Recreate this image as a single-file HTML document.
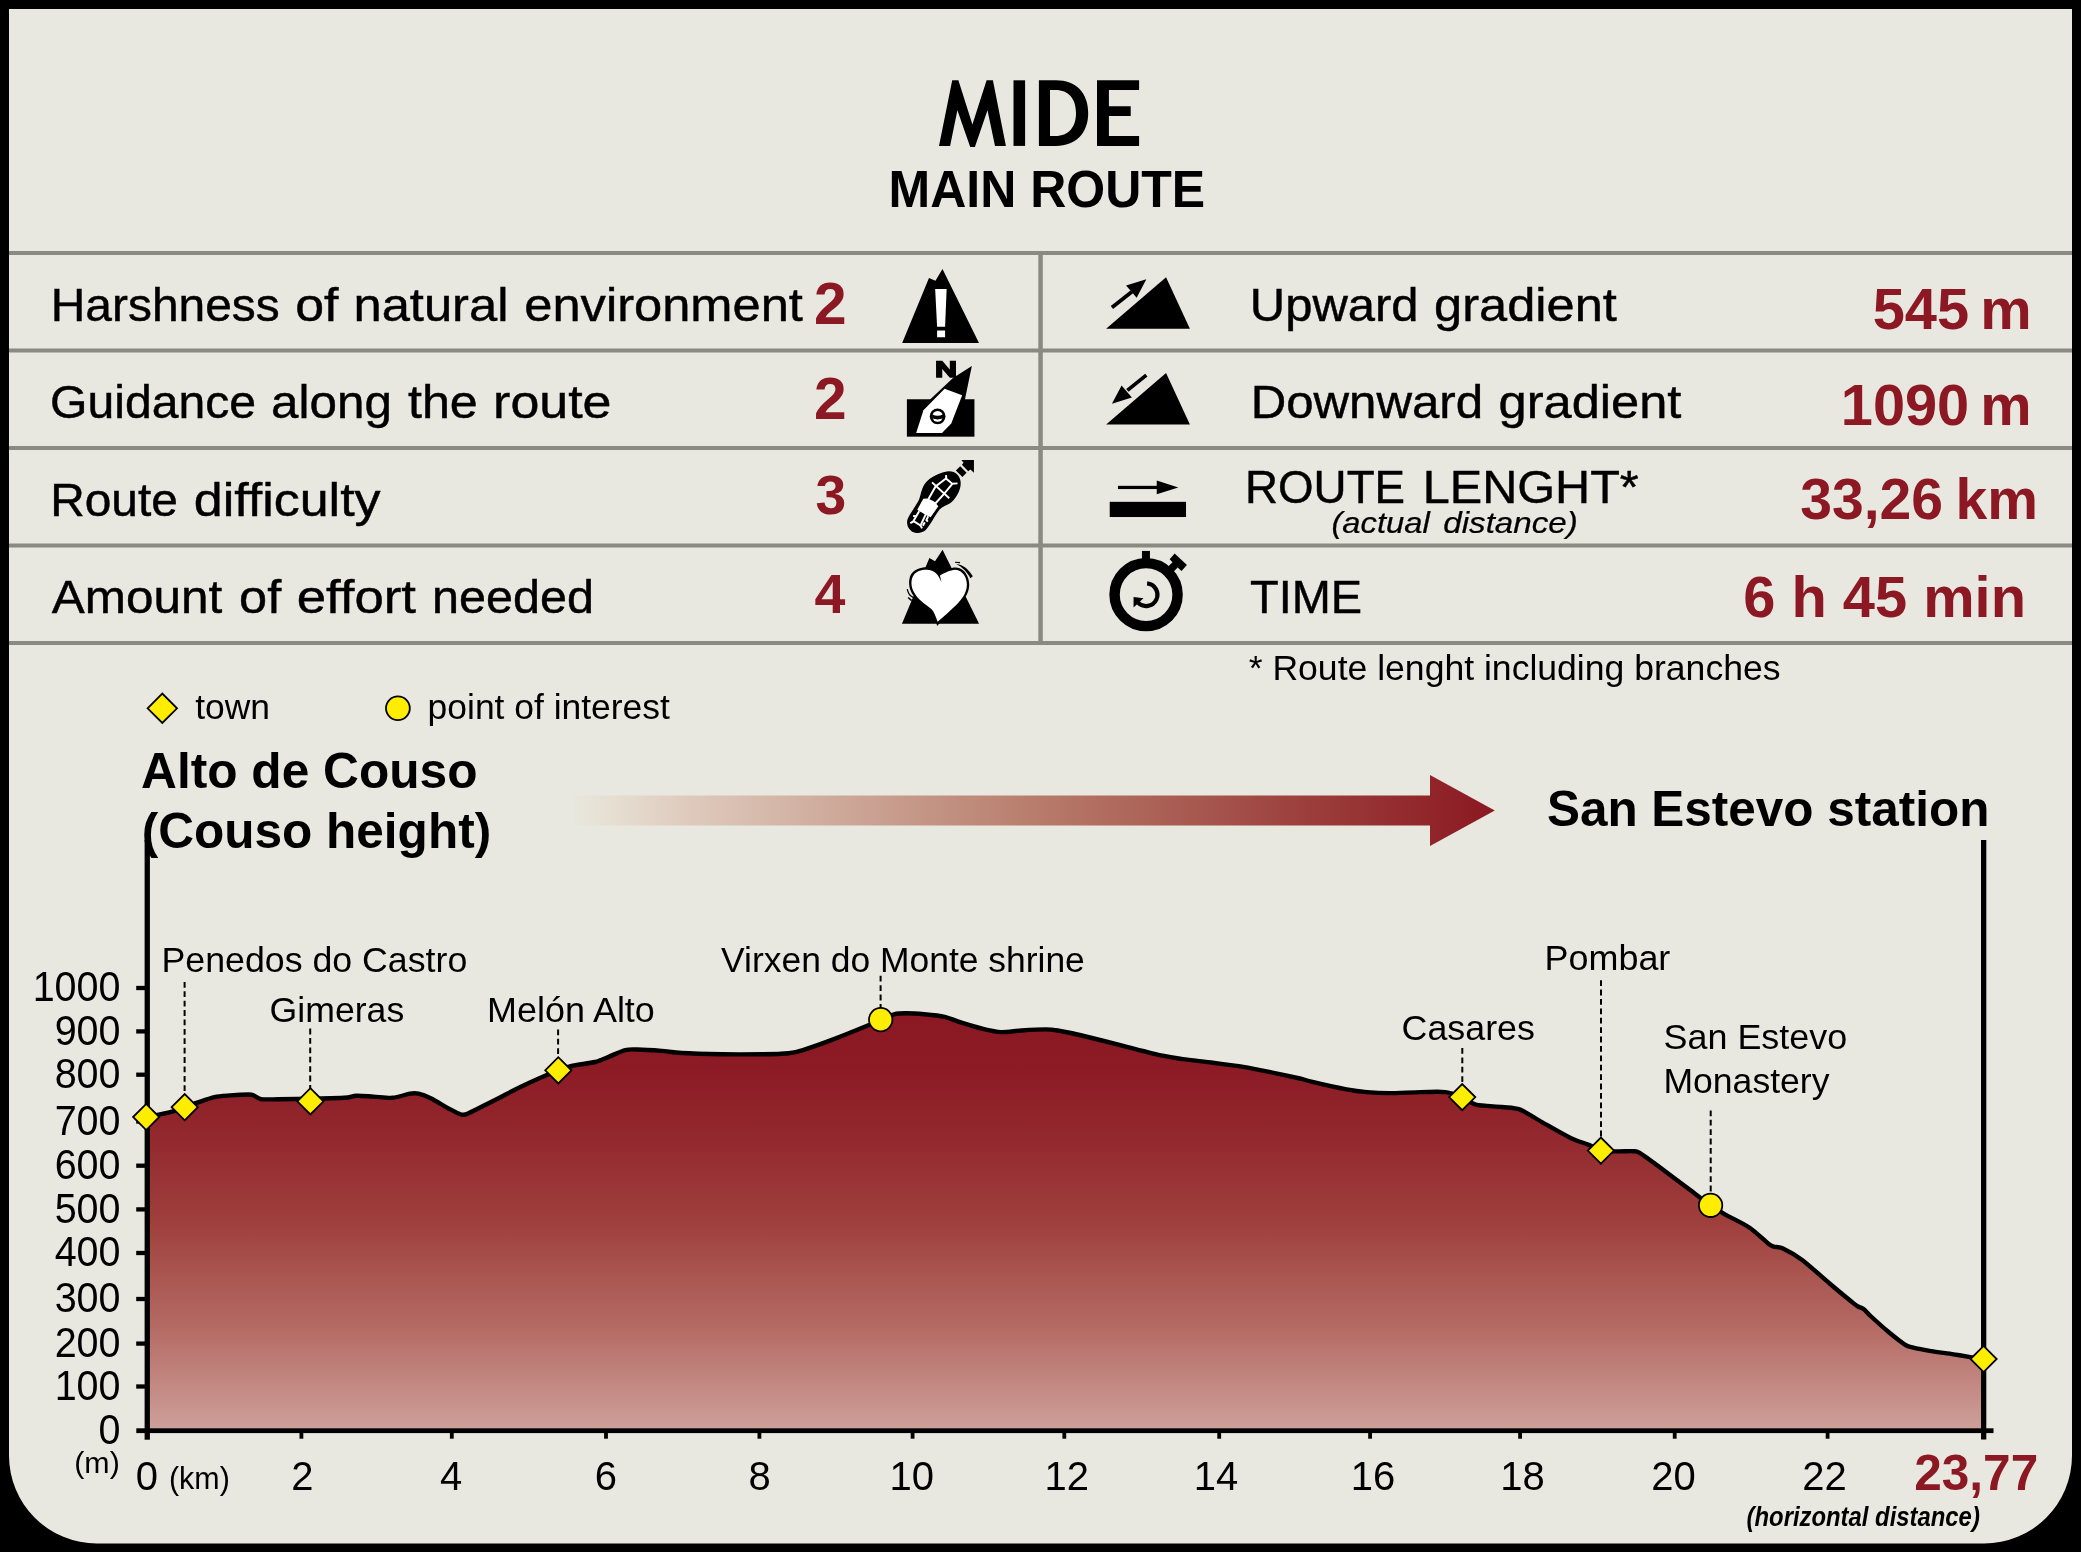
<!DOCTYPE html>
<html lang="en"><head><meta charset="utf-8"><title>MIDE - Main route</title>
<style>
html,body{margin:0;padding:0;background:#000;}
body{width:2081px;height:1552px;overflow:hidden;font-family:"Liberation Sans",sans-serif;}
svg{display:block;will-change:transform;}
text{font-family:"Liberation Sans",sans-serif;}
</style></head><body>
<svg width="2081" height="1552" viewBox="0 0 2081 1552">
<defs>
<linearGradient id="gfill" gradientUnits="userSpaceOnUse" x1="0" y1="1010" x2="0" y2="1432">
<stop offset="0" stop-color="#8b1822"/><stop offset="0.14" stop-color="#8c1b25"/><stop offset="0.3" stop-color="#93282e"/><stop offset="0.5" stop-color="#9f3f3d"/><stop offset="0.75" stop-color="#b46a63"/><stop offset="1" stop-color="#cfa19b"/>
</linearGradient>
<linearGradient id="garrow" gradientUnits="userSpaceOnUse" x1="570" y1="0" x2="1495" y2="0">
<stop offset="0" stop-color="#e9e7de"/><stop offset="0.04" stop-color="#e6e0d3"/><stop offset="0.12" stop-color="#dfccbf"/><stop offset="0.5" stop-color="#b87d6c"/><stop offset="0.8" stop-color="#9b3e3b"/><stop offset="1" stop-color="#8b1822"/>
</linearGradient>
</defs>
<rect width="2081" height="1552" fill="#000"/>
<path d="M9,9H2072V1455.5A88,88 0 0 1 1984,1543.5H97A88,88 0 0 1 9,1455.5Z" fill="#e9e8e0"/>
<rect x="9" y="251" width="2063" height="4" fill="#898a81"/>
<rect x="9" y="348.5" width="2063" height="4" fill="#898a81"/>
<rect x="9" y="446" width="2063" height="4" fill="#898a81"/>
<rect x="9" y="543.5" width="2063" height="4" fill="#898a81"/>
<rect x="9" y="641" width="2063" height="4" fill="#898a81"/>
<rect x="1038.3" y="251" width="4.5" height="394" fill="#898a81"/>
<g fill="#000">
<path d="M939,145.9 L952.2,80.3 L958.4,80.3 L972.4,124.6 L986.6,80.3 L992.9,80.3 L1005.9,145.9 L995,145.9 L987.5,110.3 L974.9,146.9 L970.2,146.9 L957.4,110.3 L950.1,145.9Z"/>
<rect x="1013.5" y="80.3" width="11.6" height="65.6"/>
<path d="M1038.9,80.3 H1056 C1076,80.3 1088.2,93 1088.2,113.1 C1088.2,133.2 1076,145.9 1056,145.9 H1038.9Z M1050,90.1 V136.1 H1055.5 C1068.5,136.1 1076,127.5 1076,113.1 C1076,98.7 1068.5,90.1 1055.5,90.1Z" fill-rule="evenodd"/>
<path d="M1097,80.3 H1139.1 V90.1 H1108.9 V106.2 H1130.7 V116 H1108.9 V136.1 H1139.1 V145.9 H1097Z"/>
</g>
<!-- icon: harshness (mountain with exclamation) -->
<g transform="translate(880,255) scale(0.128893)">
<path d="M172,683 L380,178 L430,200 L485,108 L768,683Z" fill="#000"/>
<path d="M428,264 H517 L505,556 H443Z M443,585 H505 V638 H443Z" fill="#fff"/>
</g>
<!-- icon: guidance (compass) -->
<g transform="translate(895,352) scale(0.057991)">
<rect x="205" y="815" width="1165" height="645" fill="#000"/>
<path d="M708,445 V152 H815 L945,300 V152 H1052 V445 H945 L815,295 V445Z" fill="#000"/>
<path d="M1325,240 L1000,450 L610,815 L450,1000 L1205,1000 L1205,825Z" fill="#000"/>
<path d="M855,632 L1158,745 L970,1235 L810,1395 H365 L490,1005Z" fill="#fff"/>
<circle cx="735" cy="1110" r="136" fill="#000"/>
<circle cx="735" cy="1110" r="92" fill="#fff"/>
<path d="M640,1072 Q735,1128 830,1072 L830,1142 Q735,1182 640,1142Z" fill="#000"/>
</g>
<!-- icon: difficulty (boot print) -->
<g transform="translate(900,455) scale(0.054768)">
<path d="M130,1215 C135,1130 260,980 340,830 C380,750 380,640 450,530 C540,400 760,310 880,298 C1010,290 1100,380 1108,500 C1118,640 1010,820 900,890 C840,925 770,940 720,1000 C640,1100 560,1270 470,1370 C410,1430 280,1440 210,1390 C150,1345 125,1280 130,1215Z" fill="#000"/>
<path d="M425,800 L500,795 L560,815 L630,855 L700,935 L560,1135 L510,1115 L465,1090 L390,1045 L350,1025 L315,1000Z" fill="#fff"/>
<g fill="none" stroke="#fff" stroke-width="36" stroke-linecap="butt" stroke-linejoin="miter">
<path d="M520,805 L650,575 L845,425"/>
<path d="M645,885 L800,715 L955,525"/>
<path d="M585,500 L900,790"/>
<path d="M840,368 L845,435 L955,525 L1050,518"/>
<path d="M350,1025 L245,1205"/>
<path d="M470,1085 L380,1275"/>
<path d="M188,1245 L250,1210 L378,1290 L402,1340"/>
<path d="M240,1112 L305,1118"/>
<path d="M515,1118 L482,1188 L508,1218"/>
<path d="M452,1228 L418,1292"/>
</g>
<path d="M1120,90 H1350 V325 L1285,265 L1245,295 L1130,180 L1160,140Z" fill="#000"/>
<path d="M1020,285 L1100,205 L1215,325 L1140,400Z" fill="#000"/>
</g>
<!-- icon: effort (heart over mountain) -->
<g transform="translate(895,545) scale(0.057991)">
<path d="M120,1358 L593,225 L690,280 L820,80 L1450,1358Z" fill="#000"/>
<path d="M728,1398 C700,1300 660,1180 600,1120 C500,1030 370,960 295,840 C235,740 225,600 275,510 C330,420 440,385 540,385 C640,385 720,420 770,480 C850,430 960,390 1050,390 C1200,400 1280,550 1280,690 C1275,850 1180,960 1080,1060 C980,1160 860,1270 760,1360Z" fill="#000"/>
<path d="M735,1325 C700,1225 670,1150 630,1110 C540,1030 400,950 330,820 C270,710 270,600 320,520 C370,450 460,425 550,428 C660,435 730,490 765,570 L800,640 L775,525 C850,480 950,430 1040,425 C1170,435 1240,560 1240,690 C1235,830 1150,940 1060,1030 C960,1130 840,1230 735,1325Z" fill="#fff"/>
<g fill="none" stroke="#000" stroke-linecap="butt">
<path d="M1035,297 L1122,303" stroke-width="20"/>
<path d="M212,760 C225,830 262,880 312,902" stroke-width="22"/>
<path d="M1055,322 C1185,345 1265,415 1342,540 L1300,572 C1240,455 1160,385 1055,322Z" fill="#000" stroke="none"/>
<path d="M226,905 L288,958" stroke-width="26"/>
</g>
</g>
<!-- icon: upward gradient -->
<g transform="translate(1090,255) scale(0.128893)">
<path d="M125,572 L590,172 L775,572Z" fill="#000"/>
<path d="M170,408 L325,285" stroke="#000" stroke-width="29" fill="none"/>
<path d="M280,237 L437,188 L362,332Z" fill="#000"/>
</g>
<!-- icon: downward gradient -->
<g transform="translate(1090,255) scale(0.128893)">
<path d="M125,1315 L590,915 L775,1315Z" fill="#000"/>
<path d="M437,932 L290,1050" stroke="#000" stroke-width="29" fill="none"/>
<path d="M170,1155 L245,1012 L325,1105Z" fill="#000"/>
</g>
<!-- icon: route length -->
<g transform="translate(1090,450) scale(0.128893)">
<rect x="153" y="402" width="592" height="118" fill="#000"/>
<rect x="217" y="278" width="308" height="25" fill="#000"/>
<path d="M518,237 L685,290 L518,343Z" fill="#000"/>
</g>
<!-- icon: time (stopwatch) -->
<g transform="translate(1090,450) scale(0.128893)">
<circle cx="435" cy="1122" r="244.5" fill="none" stroke="#000" stroke-width="81"/>
<rect x="403" y="783" width="62" height="75" fill="#000"/>
<path d="M657,803 L752,893 L710,938 L680,912 L648,945 L607,903 L640,870 L618,848Z" fill="#000"/>
<path d="M443,1035 A88,88 0 1 1 372,1184" fill="none" stroke="#000" stroke-width="33"/>
<path d="M338,1140 L415,1150 L338,1222Z" fill="#000"/>
</g>
<!-- direction arrow -->
<path d="M573,795.5 H1430 V775 L1494.8,810.5 L1430,846 V825.4 H573Z" fill="url(#garrow)"/>
<!-- elevation profile -->
<path d="M146.9,1116.5 C149.1,1116.1 158.9,1114.6 162.5,1113.9 C166.1,1113.2 168.8,1112.7 172.0,1111.7 C175.2,1110.7 181.0,1108.3 184.6,1107.0 C188.2,1105.7 192.8,1104.1 197.1,1102.7 C201.4,1101.3 209.7,1098.1 214.4,1097.1 C219.1,1096.1 225.1,1095.8 230.0,1095.4 C234.9,1095.0 245.5,1094.5 249.0,1094.5 C252.5,1094.5 252.5,1095.0 254.2,1095.7 C255.9,1096.4 257.6,1098.7 261.1,1099.2 C264.6,1099.7 271.4,1099.3 278.4,1099.2 C285.4,1099.1 301.0,1098.9 310.4,1098.7 C319.8,1098.5 337.6,1098.2 344.2,1097.8 C350.8,1097.4 352.1,1095.9 356.3,1095.7 C360.5,1095.5 368.4,1096.3 373.6,1096.6 C378.8,1096.9 387.4,1098.2 392.6,1097.8 C397.8,1097.4 406.2,1094.3 409.9,1093.7 C413.6,1093.1 415.5,1093.0 418.5,1093.7 C421.5,1094.4 426.0,1096.0 430.7,1098.3 C435.4,1100.6 446.7,1107.5 451.4,1109.9 C456.1,1112.3 459.5,1115.1 463.5,1114.8 C467.5,1114.5 473.9,1110.4 479.1,1107.9 C484.3,1105.4 494.1,1100.5 500.0,1097.5 C505.9,1094.5 512.1,1090.8 520.4,1086.9 C528.7,1083.0 550.8,1073.3 558.3,1070.3 C565.8,1067.3 567.6,1066.9 572.8,1065.7 C578.0,1064.5 589.8,1063.3 595.0,1062.0 C600.2,1060.7 604.9,1058.3 609.2,1056.6 C613.5,1054.9 621.3,1051.1 625.3,1050.1 C629.3,1049.1 632.2,1049.4 637.4,1049.5 C642.6,1049.6 655.3,1050.4 661.6,1050.9 C667.9,1051.4 673.1,1052.5 681.8,1053.0 C690.5,1053.5 710.7,1054.0 722.2,1054.2 C733.7,1054.4 753.0,1054.3 762.5,1054.2 C772.0,1054.1 783.0,1053.8 788.8,1053.2 C794.6,1052.6 796.6,1052.1 802.9,1050.1 C809.2,1048.1 824.5,1042.7 833.2,1039.4 C841.9,1036.1 856.7,1030.1 863.5,1027.3 C870.3,1024.5 876.2,1021.8 880.6,1019.9 C885.0,1018.0 890.4,1015.2 894.1,1014.3 C897.8,1013.4 901.9,1013.3 906.2,1013.3 C910.5,1013.3 918.9,1013.8 924.4,1014.3 C929.9,1014.8 939.4,1015.7 944.6,1016.9 C949.8,1018.1 954.9,1020.6 960.7,1022.4 C966.5,1024.2 979.1,1028.0 984.9,1029.4 C990.7,1030.8 995.9,1031.9 1001.1,1032.1 C1006.3,1032.3 1015.0,1030.9 1021.3,1030.5 C1027.6,1030.1 1040.3,1029.4 1045.5,1029.4 C1050.7,1029.4 1052.4,1029.6 1057.6,1030.5 C1062.8,1031.4 1072.6,1033.3 1081.8,1035.5 C1091.0,1037.7 1110.7,1042.7 1122.2,1045.6 C1133.7,1048.5 1153.9,1053.8 1162.5,1055.7 C1171.1,1057.6 1175.5,1058.1 1182.7,1059.1 C1189.9,1060.1 1204.3,1061.6 1213.0,1062.7 C1221.7,1063.8 1234.7,1065.4 1243.3,1066.8 C1251.9,1068.2 1265.4,1071.1 1273.5,1072.8 C1281.6,1074.5 1294.7,1077.3 1300.0,1078.5 C1305.3,1079.7 1303.6,1079.8 1310.3,1081.4 C1317.0,1083.0 1338.5,1087.9 1346.6,1089.4 C1354.7,1090.9 1360.7,1091.6 1366.8,1092.1 C1372.9,1092.6 1381.2,1093.1 1389.0,1093.1 C1396.8,1093.1 1413.2,1092.2 1421.3,1092.1 C1429.4,1092.0 1439.7,1091.4 1445.5,1092.1 C1451.3,1092.8 1457.9,1095.3 1462.2,1097.1 C1466.5,1098.9 1470.1,1103.2 1475.8,1104.6 C1481.5,1106.0 1495.7,1106.3 1502.0,1107.0 C1508.3,1107.7 1514.4,1107.4 1520.2,1109.6 C1526.0,1111.8 1535.2,1118.3 1542.4,1122.3 C1549.6,1126.3 1564.0,1134.7 1570.6,1137.9 C1577.2,1141.1 1584.5,1143.1 1588.8,1144.9 C1593.1,1146.7 1596.9,1149.7 1600.9,1150.6 C1604.9,1151.5 1612.4,1151.3 1617.0,1151.4 C1621.6,1151.5 1629.9,1151.0 1633.1,1151.2 C1636.3,1151.4 1636.2,1150.8 1639.7,1152.9 C1643.2,1155.0 1650.7,1160.6 1657.5,1165.6 C1664.3,1170.6 1679.9,1182.4 1687.5,1188.1 C1695.1,1193.8 1705.2,1201.6 1710.5,1205.3 C1715.8,1209.0 1719.4,1211.1 1724.9,1214.3 C1730.4,1217.5 1743.1,1223.3 1749.3,1227.5 C1755.5,1231.7 1764.6,1240.7 1768.1,1243.4 C1771.6,1246.1 1771.6,1245.9 1773.7,1246.6 C1775.8,1247.3 1779.0,1246.5 1783.0,1248.4 C1787.0,1250.3 1795.1,1254.7 1801.8,1259.7 C1808.5,1264.7 1822.7,1277.6 1829.9,1283.7 C1837.1,1289.8 1848.4,1299.1 1852.4,1302.4 C1856.4,1305.7 1856.4,1305.6 1858.0,1306.5 C1859.6,1307.4 1861.7,1307.6 1863.6,1309.0 C1865.5,1310.4 1867.6,1313.3 1871.1,1316.5 C1874.6,1319.7 1883.2,1327.5 1888.0,1331.5 C1892.8,1335.5 1901.4,1342.3 1904.9,1344.6 C1908.4,1346.9 1908.7,1346.5 1912.4,1347.4 C1916.1,1348.3 1925.2,1350.1 1931.1,1351.1 C1937.0,1352.1 1948.0,1353.4 1953.6,1354.3 C1959.2,1355.2 1966.1,1356.4 1970.4,1357.1 C1974.7,1357.8 1981.7,1358.7 1983.6,1359.0 L1983.6,1431 L147,1431Z" fill="url(#gfill)"/>
<path d="M146.9,1116.5 C149.1,1116.1 158.9,1114.6 162.5,1113.9 C166.1,1113.2 168.8,1112.7 172.0,1111.7 C175.2,1110.7 181.0,1108.3 184.6,1107.0 C188.2,1105.7 192.8,1104.1 197.1,1102.7 C201.4,1101.3 209.7,1098.1 214.4,1097.1 C219.1,1096.1 225.1,1095.8 230.0,1095.4 C234.9,1095.0 245.5,1094.5 249.0,1094.5 C252.5,1094.5 252.5,1095.0 254.2,1095.7 C255.9,1096.4 257.6,1098.7 261.1,1099.2 C264.6,1099.7 271.4,1099.3 278.4,1099.2 C285.4,1099.1 301.0,1098.9 310.4,1098.7 C319.8,1098.5 337.6,1098.2 344.2,1097.8 C350.8,1097.4 352.1,1095.9 356.3,1095.7 C360.5,1095.5 368.4,1096.3 373.6,1096.6 C378.8,1096.9 387.4,1098.2 392.6,1097.8 C397.8,1097.4 406.2,1094.3 409.9,1093.7 C413.6,1093.1 415.5,1093.0 418.5,1093.7 C421.5,1094.4 426.0,1096.0 430.7,1098.3 C435.4,1100.6 446.7,1107.5 451.4,1109.9 C456.1,1112.3 459.5,1115.1 463.5,1114.8 C467.5,1114.5 473.9,1110.4 479.1,1107.9 C484.3,1105.4 494.1,1100.5 500.0,1097.5 C505.9,1094.5 512.1,1090.8 520.4,1086.9 C528.7,1083.0 550.8,1073.3 558.3,1070.3 C565.8,1067.3 567.6,1066.9 572.8,1065.7 C578.0,1064.5 589.8,1063.3 595.0,1062.0 C600.2,1060.7 604.9,1058.3 609.2,1056.6 C613.5,1054.9 621.3,1051.1 625.3,1050.1 C629.3,1049.1 632.2,1049.4 637.4,1049.5 C642.6,1049.6 655.3,1050.4 661.6,1050.9 C667.9,1051.4 673.1,1052.5 681.8,1053.0 C690.5,1053.5 710.7,1054.0 722.2,1054.2 C733.7,1054.4 753.0,1054.3 762.5,1054.2 C772.0,1054.1 783.0,1053.8 788.8,1053.2 C794.6,1052.6 796.6,1052.1 802.9,1050.1 C809.2,1048.1 824.5,1042.7 833.2,1039.4 C841.9,1036.1 856.7,1030.1 863.5,1027.3 C870.3,1024.5 876.2,1021.8 880.6,1019.9 C885.0,1018.0 890.4,1015.2 894.1,1014.3 C897.8,1013.4 901.9,1013.3 906.2,1013.3 C910.5,1013.3 918.9,1013.8 924.4,1014.3 C929.9,1014.8 939.4,1015.7 944.6,1016.9 C949.8,1018.1 954.9,1020.6 960.7,1022.4 C966.5,1024.2 979.1,1028.0 984.9,1029.4 C990.7,1030.8 995.9,1031.9 1001.1,1032.1 C1006.3,1032.3 1015.0,1030.9 1021.3,1030.5 C1027.6,1030.1 1040.3,1029.4 1045.5,1029.4 C1050.7,1029.4 1052.4,1029.6 1057.6,1030.5 C1062.8,1031.4 1072.6,1033.3 1081.8,1035.5 C1091.0,1037.7 1110.7,1042.7 1122.2,1045.6 C1133.7,1048.5 1153.9,1053.8 1162.5,1055.7 C1171.1,1057.6 1175.5,1058.1 1182.7,1059.1 C1189.9,1060.1 1204.3,1061.6 1213.0,1062.7 C1221.7,1063.8 1234.7,1065.4 1243.3,1066.8 C1251.9,1068.2 1265.4,1071.1 1273.5,1072.8 C1281.6,1074.5 1294.7,1077.3 1300.0,1078.5 C1305.3,1079.7 1303.6,1079.8 1310.3,1081.4 C1317.0,1083.0 1338.5,1087.9 1346.6,1089.4 C1354.7,1090.9 1360.7,1091.6 1366.8,1092.1 C1372.9,1092.6 1381.2,1093.1 1389.0,1093.1 C1396.8,1093.1 1413.2,1092.2 1421.3,1092.1 C1429.4,1092.0 1439.7,1091.4 1445.5,1092.1 C1451.3,1092.8 1457.9,1095.3 1462.2,1097.1 C1466.5,1098.9 1470.1,1103.2 1475.8,1104.6 C1481.5,1106.0 1495.7,1106.3 1502.0,1107.0 C1508.3,1107.7 1514.4,1107.4 1520.2,1109.6 C1526.0,1111.8 1535.2,1118.3 1542.4,1122.3 C1549.6,1126.3 1564.0,1134.7 1570.6,1137.9 C1577.2,1141.1 1584.5,1143.1 1588.8,1144.9 C1593.1,1146.7 1596.9,1149.7 1600.9,1150.6 C1604.9,1151.5 1612.4,1151.3 1617.0,1151.4 C1621.6,1151.5 1629.9,1151.0 1633.1,1151.2 C1636.3,1151.4 1636.2,1150.8 1639.7,1152.9 C1643.2,1155.0 1650.7,1160.6 1657.5,1165.6 C1664.3,1170.6 1679.9,1182.4 1687.5,1188.1 C1695.1,1193.8 1705.2,1201.6 1710.5,1205.3 C1715.8,1209.0 1719.4,1211.1 1724.9,1214.3 C1730.4,1217.5 1743.1,1223.3 1749.3,1227.5 C1755.5,1231.7 1764.6,1240.7 1768.1,1243.4 C1771.6,1246.1 1771.6,1245.9 1773.7,1246.6 C1775.8,1247.3 1779.0,1246.5 1783.0,1248.4 C1787.0,1250.3 1795.1,1254.7 1801.8,1259.7 C1808.5,1264.7 1822.7,1277.6 1829.9,1283.7 C1837.1,1289.8 1848.4,1299.1 1852.4,1302.4 C1856.4,1305.7 1856.4,1305.6 1858.0,1306.5 C1859.6,1307.4 1861.7,1307.6 1863.6,1309.0 C1865.5,1310.4 1867.6,1313.3 1871.1,1316.5 C1874.6,1319.7 1883.2,1327.5 1888.0,1331.5 C1892.8,1335.5 1901.4,1342.3 1904.9,1344.6 C1908.4,1346.9 1908.7,1346.5 1912.4,1347.4 C1916.1,1348.3 1925.2,1350.1 1931.1,1351.1 C1937.0,1352.1 1948.0,1353.4 1953.6,1354.3 C1959.2,1355.2 1966.1,1356.4 1970.4,1357.1 C1974.7,1357.8 1981.7,1358.7 1983.6,1359.0" fill="none" stroke="#000" stroke-width="4.4" stroke-linejoin="round" stroke-linecap="butt"/>
<!-- axes -->
<g fill="#000">
<rect x="144.6" y="840" width="5.3" height="599.7"/>
<rect x="1981" y="840" width="5.3" height="599.5"/>
<rect x="136.3" y="1428.3" width="1857.2" height="4.8"/>
<rect x="136.2" y="985.85" width="10" height="4.3"/>
<rect x="136.2" y="1029.25" width="10" height="4.3"/>
<rect x="136.2" y="1072.55" width="10" height="4.3"/>
<rect x="136.2" y="1119.35" width="10" height="4.3"/>
<rect x="136.2" y="1163.55" width="10" height="4.3"/>
<rect x="136.2" y="1207.25" width="10" height="4.3"/>
<rect x="136.2" y="1250.85" width="10" height="4.3"/>
<rect x="136.2" y="1296.85" width="10" height="4.3"/>
<rect x="136.2" y="1341.45" width="10" height="4.3"/>
<rect x="136.2" y="1384.35" width="10" height="4.3"/>
<rect x="299.50" y="1430" width="3.8" height="8.7"/>
<rect x="449.90" y="1430" width="3.8" height="8.7"/>
<rect x="604.10" y="1430" width="3.8" height="8.7"/>
<rect x="757.50" y="1430" width="3.8" height="8.7"/>
<rect x="910.70" y="1430" width="3.8" height="8.7"/>
<rect x="1062.40" y="1430" width="3.8" height="8.7"/>
<rect x="1217.30" y="1430" width="3.8" height="8.7"/>
<rect x="1368.20" y="1430" width="3.8" height="8.7"/>
<rect x="1518.20" y="1430" width="3.8" height="8.7"/>
<rect x="1672.80" y="1430" width="3.8" height="8.7"/>
<rect x="1825.70" y="1430" width="3.8" height="8.7"/>
</g>
<!-- leader lines -->
<g stroke="#000" stroke-width="2" stroke-dasharray="5.8 3.6" fill="none">
<path d="M184.6,981.9 V1095"/>
<path d="M310.2,1028.6 V1089"/>
<path d="M558.1,1029.4 V1058"/>
<path d="M880.6,975.8 V1008"/>
<path d="M1462.3,1048 V1085"/>
<path d="M1601,980.2 V1138.5"/>
<path d="M1710.7,1110.4 V1194"/>
</g>
<!-- markers -->
<g fill="#ffed00" stroke="#000" stroke-width="1.8" stroke-linejoin="miter">
<path d="M133.1,1117.0 L146.2,1103.9 L159.3,1117.0 L146.2,1130.1Z"/>
<path d="M171.6,1107.2 L184.7,1094.1 L197.8,1107.2 L184.7,1120.3Z"/>
<path d="M297.3,1101.3 L310.4,1088.2 L323.5,1101.3 L310.4,1114.4Z"/>
<path d="M545.2,1070.3 L558.3,1057.2 L571.4,1070.3 L558.3,1083.4Z"/>
<path d="M1449.1,1097.1 L1462.2,1084.0 L1475.3,1097.1 L1462.2,1110.2Z"/>
<path d="M1587.8,1150.6 L1600.9,1137.5 L1614.0,1150.6 L1600.9,1163.7Z"/>
<path d="M1970.5,1359.0 L1983.6,1345.9 L1996.7,1359.0 L1983.6,1372.1Z"/>
<circle cx="880.7" cy="1019.6" r="11.7"/>
<circle cx="1710.6" cy="1205.3" r="11.7"/>
<path d="M147.6,708.3 L162.3,693.6 L177.0,708.3 L162.3,723.0Z"/>
<circle cx="397.9" cy="708.3" r="11.9"/>
</g>
<text transform="translate(888.62,206.60) scale(0.9653,1)" font-size="51.8" fill="#000" font-weight="bold">MAIN ROUTE</text>
<text transform="translate(813.98,324.10) scale(1.0107)" font-size="58" fill="#8c1823" font-weight="bold">2</text>
<text transform="translate(813.98,419.20) scale(1.0107)" font-size="58" fill="#8c1823" font-weight="bold">2</text>
<text transform="translate(815.51,514.40) scale(0.9517)" font-size="58" fill="#8c1823" font-weight="bold">3</text>
<text transform="translate(814.54,613.10) scale(0.9581)" font-size="58" fill="#8c1823" font-weight="bold">4</text>
<text transform="translate(1250.03,613.10) scale(1.0210,1)" font-size="46" fill="#000" stroke="#000" stroke-width="0.45">TIME</text>
<text transform="translate(1248.68,680.40) scale(1.0463)" font-size="34" fill="#000">* Route lenght including branches</text>
<text transform="translate(1872.65,328.70) scale(0.9974)" font-size="58" fill="#8c1823" font-weight="bold" word-spacing="-5">545 m</text>
<text transform="translate(1840.77,424.80) scale(0.9959)" font-size="58" fill="#8c1823" font-weight="bold" word-spacing="-5">1090 m</text>
<text transform="translate(1800.17,519.20) scale(0.9846)" font-size="58" fill="#8c1823" font-weight="bold" word-spacing="-3.5">33,26 km</text>
<text transform="translate(1743.29,617.20) scale(1.0054,1)" font-size="57.5" fill="#8c1823" font-weight="bold">6 h 45 min</text>
<text transform="translate(195.19,718.80) scale(1.0119)" font-size="35" fill="#000">town</text>
<text transform="translate(427.62,718.80) scale(1.0125)" font-size="35" fill="#000">point of interest</text>
<text transform="translate(141.06,788.30) scale(0.9930)" font-size="50" fill="#000" font-weight="bold">Alto de Couso</text>
<text transform="translate(141.72,848.00) scale(0.9909)" font-size="50" fill="#000" font-weight="bold">(Couso height)</text>
<text transform="translate(1546.92,825.60) scale(0.9893)" font-size="50" fill="#000" font-weight="bold">San Estevo station</text>
<text transform="translate(161.49,972.00) scale(1.0210)" font-size="35" fill="#000">Penedos do Castro</text>
<text transform="translate(269.62,1022.10) scale(1.0182)" font-size="35" fill="#000">Gimeras</text>
<text transform="translate(487.08,1022.10) scale(1.0267)" font-size="35" fill="#000">Melón Alto</text>
<text transform="translate(721.05,971.90) scale(1.0131)" font-size="35" fill="#000">Virxen do Monte shrine</text>
<text transform="translate(1401.61,1039.90) scale(1.0232)" font-size="35" fill="#000">Casares</text>
<text transform="translate(1544.58,970.10) scale(1.0264)" font-size="35" fill="#000">Pombar</text>
<text transform="translate(1663.60,1049.20) scale(1.0259)" font-size="35" fill="#000">San Estevo</text>
<text transform="translate(1663.40,1092.50) scale(1.0168)" font-size="35" fill="#000">Monastery</text>
<text transform="translate(74.23,1472.60) scale(1.0133)" font-size="30" fill="#000">(m)</text>
<text transform="translate(168.92,1489.40) scale(1.0151)" font-size="30" fill="#000">(km)</text>
<text transform="translate(1914.28,1489.50) scale(1.0426)" font-size="47.5" fill="#8c1823" font-weight="bold">23,77</text>
<text transform="translate(1746.55,1526.20) scale(0.8526,1)" font-size="28" fill="#000" font-weight="bold" font-style="italic">(horizontal distance)</text>
<text transform="translate(32.65,1001.20) scale(1,1.055)" font-size="39.5" fill="#000">1000</text>
<text transform="translate(54.65,1044.60) scale(1,1.055)" font-size="39.5" fill="#000">900</text>
<text transform="translate(54.65,1087.90) scale(1,1.055)" font-size="39.5" fill="#000">800</text>
<text transform="translate(54.65,1134.70) scale(1,1.055)" font-size="39.5" fill="#000">700</text>
<text transform="translate(54.65,1178.90) scale(1,1.055)" font-size="39.5" fill="#000">600</text>
<text transform="translate(54.65,1222.60) scale(1,1.055)" font-size="39.5" fill="#000">500</text>
<text transform="translate(54.65,1266.20) scale(1,1.055)" font-size="39.5" fill="#000">400</text>
<text transform="translate(54.65,1312.20) scale(1,1.055)" font-size="39.5" fill="#000">300</text>
<text transform="translate(54.65,1356.80) scale(1,1.055)" font-size="39.5" fill="#000">200</text>
<text transform="translate(54.65,1399.70) scale(1,1.055)" font-size="39.5" fill="#000">100</text>
<text transform="translate(98.40,1444.00) scale(1,1.055)" font-size="39.5" fill="#000">0</text>
<text transform="translate(135.78,1489.50) scale(1,1.028)" font-size="40" fill="#000">0</text>
<text transform="translate(291.27,1489.50) scale(1,1.028)" font-size="40" fill="#000">2</text>
<text transform="translate(440.10,1489.50) scale(1,1.028)" font-size="40" fill="#000">4</text>
<text transform="translate(594.75,1489.50) scale(1,1.028)" font-size="40" fill="#000">6</text>
<text transform="translate(748.58,1489.50) scale(1,1.028)" font-size="40" fill="#000">8</text>
<text transform="translate(889.40,1489.50) scale(1,1.028)" font-size="40" fill="#000">10</text>
<text transform="translate(1044.55,1489.50) scale(1,1.028)" font-size="40" fill="#000">12</text>
<text transform="translate(1193.67,1489.50) scale(1,1.028)" font-size="40" fill="#000">14</text>
<text transform="translate(1350.72,1489.50) scale(1,1.028)" font-size="40" fill="#000">16</text>
<text transform="translate(1500.33,1489.50) scale(1,1.028)" font-size="40" fill="#000">18</text>
<text transform="translate(1651.20,1489.50) scale(1,1.028)" font-size="40" fill="#000">20</text>
<text transform="translate(1802.35,1489.50) scale(1,1.028)" font-size="40" fill="#000">22</text>
<text transform="translate(50.76,320.70) scale(1.0414,1)" font-size="46" fill="#000" stroke="#000" stroke-width="0.45">Harshness</text>
<text transform="translate(295.23,320.70) scale(1.1270,1)" font-size="46" fill="#000" stroke="#000" stroke-width="0.45">of</text>
<text transform="translate(353.47,320.70) scale(1.1022,1)" font-size="46" fill="#000" stroke="#000" stroke-width="0.45">natural</text>
<text transform="translate(524.27,320.70) scale(1.1009,1)" font-size="46" fill="#000" stroke="#000" stroke-width="0.45">environment</text>
<text transform="translate(50.01,418.10) scale(1.0461,1)" font-size="46" fill="#000" stroke="#000" stroke-width="0.45">Guidance</text>
<text transform="translate(271.12,418.10) scale(1.0731,1)" font-size="46" fill="#000" stroke="#000" stroke-width="0.45">along</text>
<text transform="translate(407.95,418.10) scale(1.0931,1)" font-size="46" fill="#000" stroke="#000" stroke-width="0.45">the</text>
<text transform="translate(493.09,418.10) scale(1.1292,1)" font-size="46" fill="#000" stroke="#000" stroke-width="0.45">route</text>
<text transform="translate(50.16,515.60) scale(1.0409,1)" font-size="46" fill="#000" stroke="#000" stroke-width="0.45">Route</text>
<text transform="translate(193.72,515.60) scale(1.1304,1)" font-size="46" fill="#000" stroke="#000" stroke-width="0.45">difficulty</text>
<text transform="translate(51.77,613.30) scale(1.0753,1)" font-size="46" fill="#000" stroke="#000" stroke-width="0.45">Amount</text>
<text transform="translate(239.08,613.30) scale(1.0973,1)" font-size="46" fill="#000" stroke="#000" stroke-width="0.45">of</text>
<text transform="translate(296.69,613.30) scale(1.1471,1)" font-size="46" fill="#000" stroke="#000" stroke-width="0.45">effort</text>
<text transform="translate(432.10,613.30) scale(1.0541,1)" font-size="46" fill="#000" stroke="#000" stroke-width="0.45">needed</text>
<text transform="translate(1249.84,320.60) scale(1.0643,1)" font-size="46" fill="#000" stroke="#000" stroke-width="0.45">Upward</text>
<text transform="translate(1434.08,320.60) scale(1.0995,1)" font-size="46" fill="#000" stroke="#000" stroke-width="0.45">gradient</text>
<text transform="translate(1250.65,418.10) scale(1.0701,1)" font-size="46" fill="#000" stroke="#000" stroke-width="0.45">Downward</text>
<text transform="translate(1498.57,418.10) scale(1.1002,1)" font-size="46" fill="#000" stroke="#000" stroke-width="0.45">gradient</text>
<text transform="translate(1245.02,503.10) scale(0.9945,1)" font-size="46" fill="#000" stroke="#000" stroke-width="0.45">ROUTE</text>
<text transform="translate(1422.80,503.10) scale(1.0564,1)" font-size="46" fill="#000" stroke="#000" stroke-width="0.45">LENGHT*</text>
<text transform="translate(1331.41,533.10) scale(1.1102,1)" font-size="29.5" fill="#000" font-style="italic" stroke="#000" stroke-width="0.25">(actual</text>
<text transform="translate(1443.26,533.10) scale(1.1249,1)" font-size="29.5" fill="#000" font-style="italic" stroke="#000" stroke-width="0.25">distance)</text>
</svg>
</body></html>
